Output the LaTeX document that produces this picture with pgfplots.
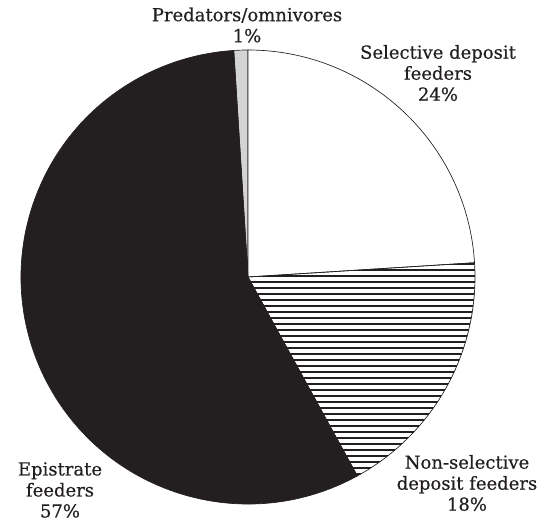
\documentclass[border=0pt]{standalone}
\usepackage{pgfplots}
\usepackage{pgfplotstable}
\pgfplotsset{compat=1.18}
\usepackage{fontspec}
\setmainfont{DejaVu Serif}
\newfontfamily\labelfont{DejaVu Serif}[FakeBold=0.5]
\usetikzlibrary{patterns.meta}

\definecolor{ink}{HTML}{231F20}
\definecolor{lightgrey}{HTML}{D4D4D4}

% feeding groups, share of individuals (%)
\pgfplotstableread{
group pct
pred  1
sel   24
non   18
epi   57
}\pietable

\pgfplotstablegetelem{0}{pct}\of\pietable \let\pPred\pgfplotsretval
\pgfplotstablegetelem{1}{pct}\of\pietable \let\pSel\pgfplotsretval
\pgfplotstablegetelem{2}{pct}\of\pietable \let\pNon\pgfplotsretval
\pgfplotstablegetelem{3}{pct}\of\pietable \let\pEpi\pgfplotsretval

% cumulative angles, clockwise from the top
\pgfmathsetmacro\aA{90+3.6*\pPred}
\pgfmathsetmacro\aB{90}
\pgfmathsetmacro\aC{\aB-3.6*\pSel}
\pgfmathsetmacro\aD{\aC-3.6*\pNon}
\pgfmathsetmacro\aE{\aD-3.6*\pEpi}

\def\cx{248}
\def\cy{245}
\def\rad{170.25pt}

\begin{document}
\begin{tikzpicture}
\begin{axis}[
    hide axis, scale only axis, clip=false,
    x=0.75pt, y=0.75pt,
    xmin=0, xmax=543, ymin=0, ymax=522,
  ]
  \coordinate (ll) at (axis cs:0,0);
  \coordinate (ur) at (axis cs:543,522);
  \begin{scope}[line width=0.5pt, draw=ink]
    \draw[fill=lightgrey] (axis cs:\cx,\cy) -- ++(\aA:\rad)
      arc[start angle=\aA, end angle=\aB, radius=\rad] -- cycle;
    \draw[fill=white] (axis cs:\cx,\cy) -- ++(\aB:\rad)
      arc[start angle=\aB, end angle=\aC, radius=\rad] -- cycle;
    \draw[pattern={Lines[angle=0, distance=4.5pt, line width=1pt]}, pattern color=ink]
      (axis cs:\cx,\cy) -- ++(\aC:\rad)
      arc[start angle=\aC, end angle=\aD, radius=\rad] -- cycle;
    \draw[fill=ink] (axis cs:\cx,\cy) -- ++(\aD:\rad)
      arc[start angle=\aD, end angle=\aE, radius=\rad] -- cycle;
  \end{scope}

  \begin{scope}[every node/.style={align=center, text=ink,
      font=\labelfont\fontsize{13.5}{15.75}\selectfont, inner sep=0pt}]
    \node at (axis cs:247,497) {Predators/omnivores\\1\%};
    \node at (axis cs:438,449) {Selective deposit\\feeders\\24\%};
    \node at (axis cs:467,39) {Non-selective\\deposit feeders\\18\%};
    \node at (axis cs:60,32) {Epistrate\\feeders\\57\%};
  \end{scope}
\end{axis}
\pgfresetboundingbox
\path[use as bounding box] (ll) rectangle (ur);
\end{tikzpicture}
\end{document}
